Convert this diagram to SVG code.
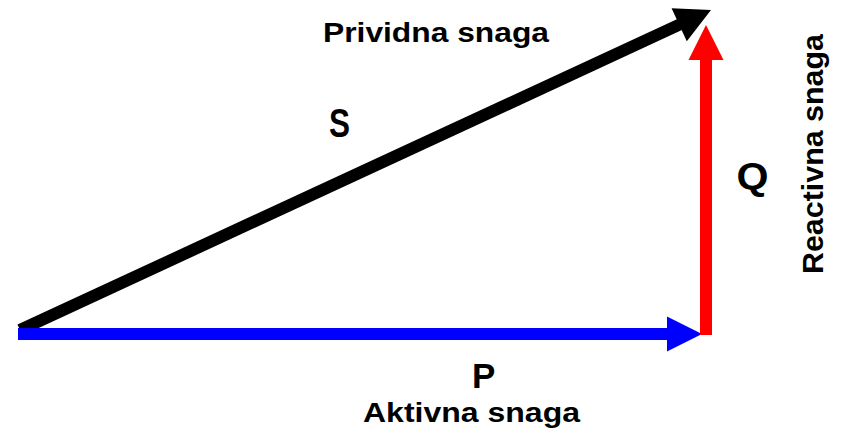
<svg xmlns="http://www.w3.org/2000/svg" width="841" height="429" viewBox="0 0 841 429">
<style>
  text { font-family: "Liberation Sans", Arial, sans-serif; font-weight: bold; fill: #000; }
  .shaft { stroke-width: 12; stroke-linecap: butt; fill: none; }
</style>
<rect width="841" height="429" fill="#fff"/>
<g id="connectors">
  <g id="S-vector">
    <line class="shaft" x1="20" y1="330" x2="681" y2="23.9" stroke="#000"/>
    <polygon points="711,10 686.8,41.2 671.6,8.2" fill="#000"/>
  </g>
  <g id="P-vector">
    <line class="shaft" x1="18" y1="334" x2="669" y2="334" stroke="#0000FF"/>
    <polygon points="702,334 667,316.5 667,351.5" fill="#0000FF"/>
  </g>
  <g id="Q-vector">
    <line class="shaft" x1="706" y1="335" x2="706" y2="58" stroke="#FF0000"/>
    <polygon points="706,25 688.5,60 723.5,60" fill="#FF0000"/>
  </g>
</g>
<g id="label-prividna"><text x="323" y="42" font-size="28" textLength="226" lengthAdjust="spacingAndGlyphs">Prividna snaga</text></g>
<g id="label-S"><text x="329" y="137" font-size="40" textLength="21" lengthAdjust="spacingAndGlyphs">S</text></g>
<g id="label-Q"><text x="736.5" y="189" font-size="36" textLength="32" lengthAdjust="spacingAndGlyphs">Q</text></g>
<g id="label-P"><text x="472" y="388" font-size="35">P</text></g>
<g id="label-aktivna"><text x="363" y="422" font-size="28" textLength="217" lengthAdjust="spacingAndGlyphs">Aktivna snaga</text></g>
<g id="label-reactivna"><text transform="translate(823,274) rotate(-90)" x="0" y="0" font-size="30" textLength="240" lengthAdjust="spacingAndGlyphs">Reactivna snaga</text></g>
</svg>
